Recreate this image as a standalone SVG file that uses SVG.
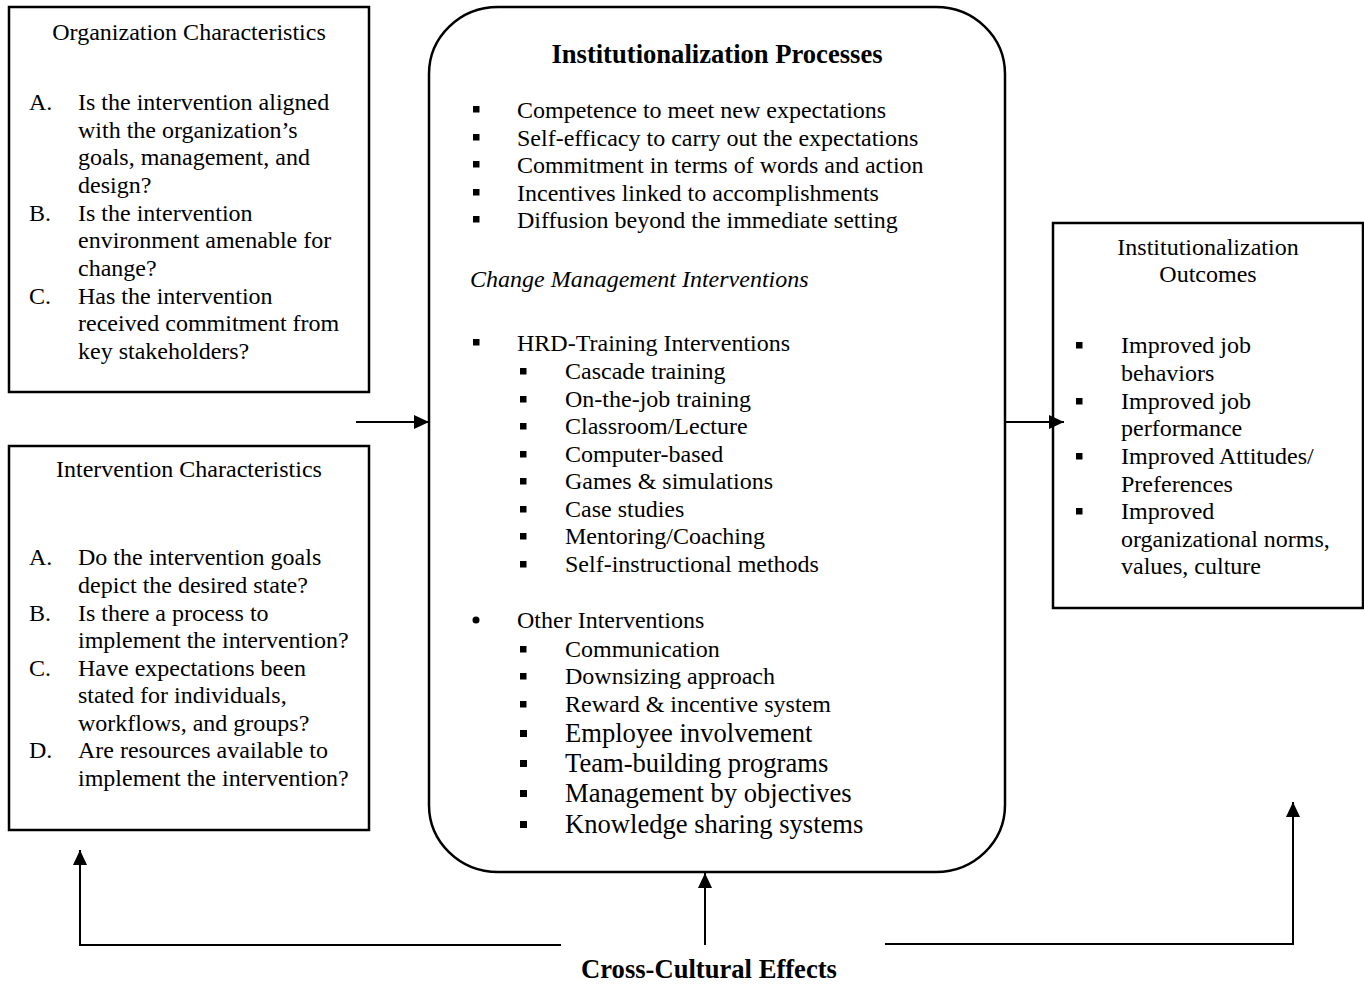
<svg xmlns="http://www.w3.org/2000/svg" width="1364" height="986" viewBox="0 0 1364 986">
<style>
  text { font-family: "Liberation Serif", "Times New Roman", serif; font-size: 24px; fill: #000; }
  .b { font-weight: bold; font-size: 26.6px; }
  .i { font-style: italic; }
  .L { font-size: 26.6px; }
  .mid { text-anchor: middle; }
  .box { fill: #fff; stroke: #000; stroke-width: 2.5; }
  .conn { fill: none; stroke: #000; stroke-width: 2; }
  .sq { fill: #000; }
</style>
<defs>
  <marker id="ah" viewBox="0 0 15 14" refX="15" refY="7" markerWidth="15" markerHeight="14" markerUnits="userSpaceOnUse" orient="auto">
    <path d="M0,0 L15,7 L0,14 z" fill="#000"/>
  </marker>
</defs>
<rect width="1364" height="986" fill="#fff"/>

<g id="org-characteristics">
  <rect class="box" x="9" y="7" width="360" height="385"/>
  <text class="mid" x="189" y="40">Organization Characteristics</text>
  <text x="29" y="110">A.</text>
  <text x="78" y="110">Is the intervention aligned</text>
  <text x="78" y="138">with the organization’s</text>
  <text x="78" y="165">goals, management, and</text>
  <text x="78" y="193">design?</text>
  <text x="29" y="221">B.</text>
  <text x="78" y="221">Is the intervention</text>
  <text x="78" y="248">environment amenable for</text>
  <text x="78" y="276">change?</text>
  <text x="29" y="304">C.</text>
  <text x="78" y="304">Has the intervention</text>
  <text x="78" y="331">received commitment from</text>
  <text x="78" y="359">key stakeholders?</text>
</g>

<g id="intervention-characteristics">
  <rect class="box" x="9" y="446" width="360" height="384"/>
  <text class="mid" x="189" y="477">Intervention Characteristics</text>
  <text x="29" y="565">A.</text>
  <text x="78" y="565">Do the intervention goals</text>
  <text x="78" y="593">depict the desired state?</text>
  <text x="29" y="621">B.</text>
  <text x="78" y="621">Is there a process to</text>
  <text x="78" y="648">implement the intervention?</text>
  <text x="29" y="676">C.</text>
  <text x="78" y="676">Have expectations been</text>
  <text x="78" y="703">stated for individuals,</text>
  <text x="78" y="731">workflows, and groups?</text>
  <text x="29" y="758">D.</text>
  <text x="78" y="758">Are resources available to</text>
  <text x="78" y="786">implement the intervention?</text>
</g>

<g id="institutionalization-processes">
  <rect class="box" x="429" y="7" width="576" height="865" rx="69" ry="67"/>
  <text class="b mid" x="717" y="63">Institutionalization Processes</text>
  <rect class="sq" x="473" y="106" width="6.5" height="6.5"/>
  <text x="517" y="118">Competence to meet new expectations</text>
  <rect class="sq" x="473" y="134" width="6.5" height="6.5"/>
  <text x="517" y="146">Self-efficacy to carry out the expectations</text>
  <rect class="sq" x="473" y="161" width="6.5" height="6.5"/>
  <text x="517" y="173">Commitment in terms of words and action</text>
  <rect class="sq" x="473" y="189" width="6.5" height="6.5"/>
  <text x="517" y="201">Incentives linked to accomplishments</text>
  <rect class="sq" x="473" y="216" width="6.5" height="6.5"/>
  <text x="517" y="228">Diffusion beyond the immediate setting</text>

  <text class="i" x="470" y="287">Change Management Interventions</text>

  <rect class="sq" x="473" y="339" width="6.5" height="6.5"/>
  <text x="517" y="351">HRD-Training Interventions</text>
  <rect class="sq" x="520" y="368" width="6.5" height="6.5"/>
  <text x="565" y="379">Cascade training</text>
  <rect class="sq" x="520" y="396" width="6.5" height="6.5"/>
  <text x="565" y="407">On-the-job training</text>
  <rect class="sq" x="520" y="423" width="6.5" height="6.5"/>
  <text x="565" y="434">Classroom/Lecture</text>
  <rect class="sq" x="520" y="451" width="6.5" height="6.5"/>
  <text x="565" y="462">Computer-based</text>
  <rect class="sq" x="520" y="478" width="6.5" height="6.5"/>
  <text x="565" y="489">Games &amp; simulations</text>
  <rect class="sq" x="520" y="506" width="6.5" height="6.5"/>
  <text x="565" y="517">Case studies</text>
  <rect class="sq" x="520" y="533" width="6.5" height="6.5"/>
  <text x="565" y="544">Mentoring/Coaching</text>
  <rect class="sq" x="520" y="561" width="6.5" height="6.5"/>
  <text x="565" y="572">Self-instructional methods</text>

  <circle cx="476" cy="620" r="3.5" fill="#000"/>
  <text x="517" y="628">Other Interventions</text>
  <rect class="sq" x="520" y="646" width="6.5" height="6.5"/>
  <text x="565" y="657">Communication</text>
  <rect class="sq" x="520" y="673" width="6.5" height="6.5"/>
  <text x="565" y="684">Downsizing approach</text>
  <rect class="sq" x="520" y="701" width="6.5" height="6.5"/>
  <text x="565" y="712">Reward &amp; incentive system</text>
  <rect class="sq" x="520" y="730" width="7" height="7"/>
  <text class="L" x="565" y="742">Employee involvement</text>
  <rect class="sq" x="520" y="760" width="7" height="7"/>
  <text class="L" x="565" y="772">Team-building programs</text>
  <rect class="sq" x="520" y="790" width="7" height="7"/>
  <text class="L" x="565" y="802">Management by objectives</text>
  <rect class="sq" x="520" y="821" width="7" height="7"/>
  <text class="L" x="565" y="833">Knowledge sharing systems</text>
</g>

<g id="institutionalization-outcomes">
  <rect class="box" x="1053" y="223" width="310" height="385"/>
  <text class="mid" x="1208" y="255">Institutionalization</text>
  <text class="mid" x="1208" y="282">Outcomes</text>
  <rect class="sq" x="1076" y="342" width="6.5" height="6.5"/>
  <text x="1121" y="353">Improved job</text>
  <text x="1121" y="381">behaviors</text>
  <rect class="sq" x="1076" y="398" width="6.5" height="6.5"/>
  <text x="1121" y="409">Improved job</text>
  <text x="1121" y="436">performance</text>
  <rect class="sq" x="1076" y="453" width="6.5" height="6.5"/>
  <text x="1121" y="464">Improved Attitudes/</text>
  <text x="1121" y="492">Preferences</text>
  <rect class="sq" x="1076" y="508" width="6.5" height="6.5"/>
  <text x="1121" y="519">Improved</text>
  <text x="1121" y="547">organizational norms,</text>
  <text x="1121" y="574">values, culture</text>
</g>

<g id="cross-cultural-effects">
  <text class="b mid" x="709" y="978">Cross-Cultural Effects</text>
</g>

<g id="connectors">
  <path class="conn" d="M356,422 L429,422" marker-end="url(#ah)"/>
  <path class="conn" d="M1005,422 L1064,422" marker-end="url(#ah)"/>
  <path class="conn" d="M561,945 L80,945 L80,850" marker-end="url(#ah)"/>
  <path class="conn" d="M705,945 L705,873" marker-end="url(#ah)"/>
  <path class="conn" d="M885,944 L1293,944 L1293,802" marker-end="url(#ah)"/>
</g>
</svg>
